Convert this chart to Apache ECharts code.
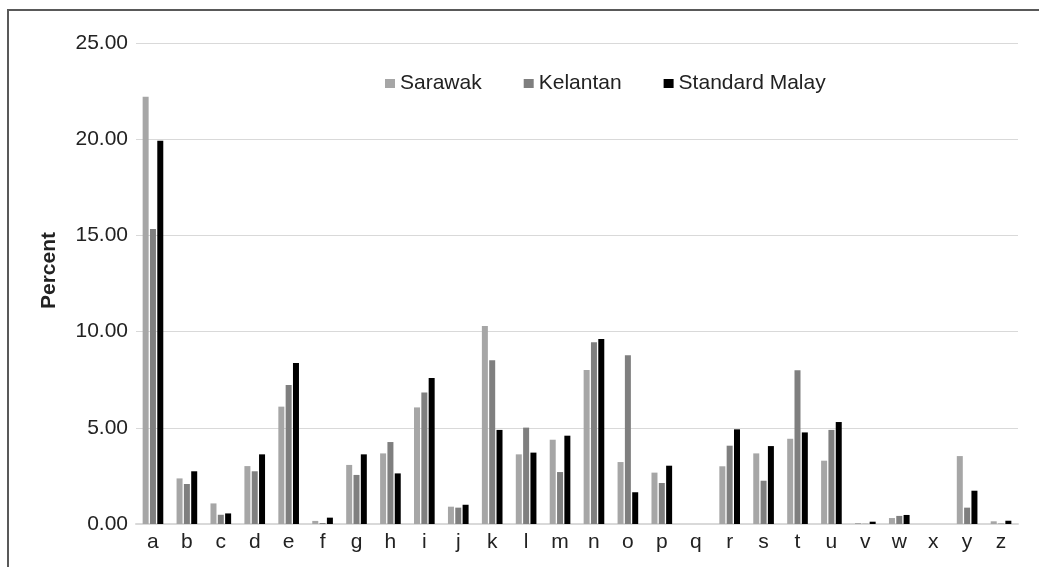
<!DOCTYPE html>
<html>
<head>
<meta charset="utf-8">
<script src="https://cdn.jsdelivr.net/npm/echarts@6/dist/echarts.min.js"></script>
<style>
html,body{margin:0;padding:0;background:#fff;}
#chart{width:1039px;height:567px;}
</style>
</head>
<body>
<div id="chart"></div>
<script>
var categories = ['a','b','c','d','e','f','g','h','i','j','k','l','m','n','o','p','q','r','s','t','u','v','w','x','y','z'];
var sarawak  = [22.20,2.37,1.07,3.01,6.10,0.16,3.07,3.67,6.06,0.90,10.29,3.62,4.38,8.00,3.22,2.67,0,3.00,3.67,4.43,3.29,0.05,0.31,0,3.53,0.14];
var kelantan = [15.33,2.08,0.48,2.74,7.22,0.05,2.55,4.26,6.84,0.85,8.51,5.01,2.70,9.44,8.77,2.13,0,4.07,2.25,7.99,4.89,0.01,0.42,0,0.85,0.02];
var standard = [19.92,2.74,0.55,3.62,8.37,0.33,3.62,2.63,7.59,1.00,4.89,3.71,4.59,9.62,1.65,3.03,0,4.92,4.05,4.76,5.30,0.12,0.47,0,1.73,0.17];
var yTicks = [0,5,10,15,20,25];

var chart = echarts.init(document.getElementById('chart'), null, {renderer:'canvas'});
var font = 'Liberation Sans, Arial, sans-serif';
function bar(name, data, color){
  return {name:name, type:'bar', data:data, barWidth:6, barGap:'22%',
    itemStyle:{color:color}, emphasis:{disabled:true}};
}
chart.setOption({
  animation:false,
  backgroundColor:'#fff',
  textStyle:{fontFamily:font},
  graphic:[{type:'rect', shape:{x:8,y:10,width:1200,height:700},
    style:{fill:'none', stroke:'#595959', lineWidth:2}, silent:true}],
  legend:{left:380, top:68, icon:'rect', itemWidth:10, itemHeight:9, itemGap:42,
    textStyle:{fontSize:21, color:'#222', fontFamily:font},
    data:['Sarawak','Kelantan','Standard Malay']},
  grid:{left:136, right:21, top:43, bottom:43},
  xAxis:{type:'category', data:categories,
    axisLine:{lineStyle:{color:'#d9d9d9', width:2}}, axisTick:{show:false},
    axisLabel:{fontSize:21, color:'#222', margin:8, fontFamily:font}},
  yAxis:{type:'value', min:yTicks[0], max:yTicks[yTicks.length-1], interval:5,
    name:'Percent', nameLocation:'middle', nameGap:76, nameRotate:90,
    nameTextStyle:{fontSize:21, fontWeight:'bold', color:'#222', fontFamily:font, padding:[0,0,0,26]},
    axisLine:{show:false}, axisTick:{show:false},
    splitLine:{lineStyle:{color:'#d9d9d9', width:1}},
    axisLabel:{fontSize:21, color:'#222', margin:8, fontFamily:font,
      formatter:function(v){return v.toFixed(2);}}},
  series:[bar('Sarawak', sarawak, '#a6a6a6'), bar('Kelantan', kelantan, '#7f7f7f'), bar('Standard Malay', standard, '#000000')]
});
</script>
</body>
</html>
